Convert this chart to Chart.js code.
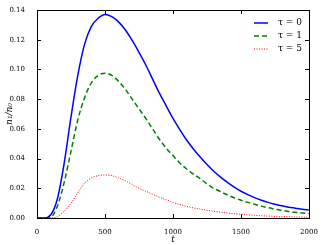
<!DOCTYPE html>
<html>
<head>
<meta charset="utf-8">
<script src="https://cdn.jsdelivr.net/npm/chart.js@4/dist/chart.umd.min.js"></script>
<style>
  html, body { margin: 0; padding: 0; background: #fff; }
  #wrap { width: 325px; height: 245px; }
</style>
</head>
<body>
<div id="wrap"><canvas id="c" width="325" height="245"></canvas></div>
<script>
// time axis (t), every 50
const times = [0, 50, 100, 150, 200, 250, 300, 350, 400, 450, 500, 550, 600, 650, 700, 750, 800, 850, 900, 950,
  1000, 1050, 1100, 1150, 1200, 1250, 1300, 1350, 1400, 1450, 1500, 1550, 1600, 1650, 1700, 1750, 1800, 1850, 1900, 1950, 2000];

// n1/n0 for each tau
const tau0 = [0, 0, 0.002, 0.013, 0.037, 0.068, 0.096, 0.117, 0.129, 0.1345, 0.137, 0.1355, 0.132, 0.1265, 0.1195, 0.1115, 0.103,
  0.0935, 0.084, 0.0755, 0.067, 0.0595, 0.0525, 0.0465, 0.041, 0.036, 0.0315, 0.0275, 0.024, 0.0208, 0.018, 0.0157, 0.0137,
  0.012, 0.0105, 0.0093, 0.0082, 0.0073, 0.0066, 0.0059, 0.0054];
const tau1 = [0, 0, 0.0005, 0.008, 0.024, 0.045, 0.066, 0.081, 0.091, 0.096, 0.0975, 0.096, 0.092, 0.0865, 0.080, 0.0735, 0.067,
  0.060, 0.053, 0.047, 0.042, 0.037, 0.033, 0.0295, 0.0265, 0.023, 0.020, 0.0177, 0.0155, 0.0136, 0.012, 0.0105, 0.0092,
  0.008, 0.0069, 0.006, 0.0051, 0.0044, 0.0038, 0.0034, 0.003];
const tau5 = [0, 0, 0, 0.001, 0.0045, 0.010, 0.017, 0.0235, 0.027, 0.0285, 0.029, 0.0285, 0.027, 0.025, 0.0225, 0.020, 0.018,
  0.016, 0.014, 0.0123, 0.0105, 0.0091, 0.0078, 0.0068, 0.006, 0.0052, 0.0045, 0.0039, 0.0033, 0.0029, 0.0025, 0.0021, 0.0018,
  0.0015, 0.0013, 0.0011, 0.001, 0.0009, 0.0007, 0.0006, 0.0005];

const seriesLabels = ['\u03c4 = 0', '\u03c4 = 1', '\u03c4 = 5'];
const xTicks = [0, 500, 1000, 1500, 2000];
const yTicks = [0, 0.02, 0.04, 0.06, 0.08, 0.10, 0.12, 0.14];

const serif = "'DejaVu Serif', 'Liberation Serif', serif";

function pts(vals) {
  return times.map((t, i) => ({ x: t, y: vals[i] }));
}

// matplotlib style inward ticks on all four sides, frame, legend, y label
const frameTicks = {
  id: 'frameTicks',
  afterDraw(chart) {
    const ctx = chart.ctx, a = chart.chartArea;
    const xs = chart.scales.x, ys = chart.scales.y;
    ctx.save();
    ctx.strokeStyle = '#000';
    ctx.lineWidth = 1;
    ctx.beginPath();
    xTicks.forEach(v => {
      const px = Math.round(xs.getPixelForValue(v)) + 0.5;
      ctx.moveTo(px, a.bottom); ctx.lineTo(px, a.bottom - 4);
      ctx.moveTo(px, a.top); ctx.lineTo(px, a.top + 4);
    });
    yTicks.forEach(v => {
      const py = Math.round(ys.getPixelForValue(v)) + 0.5;
      ctx.moveTo(a.left, py); ctx.lineTo(a.left + 4, py);
      ctx.moveTo(a.right, py); ctx.lineTo(a.right - 4, py);
    });
    ctx.stroke();
    ctx.strokeRect(Math.round(a.left) + 0.5, Math.round(a.top) + 0.5,
      Math.round(a.right - a.left), Math.round(a.bottom - a.top));

    // legend, upper right, no frame
    chart.data.datasets.forEach((d, i) => {
      const y = a.top + 13 + i * 13;
      ctx.beginPath();
      ctx.strokeStyle = d.borderColor;
      ctx.lineWidth = d.borderWidth;
      ctx.setLineDash(d.borderDash || []);
      ctx.moveTo(a.right - 55, y); ctx.lineTo(a.right - 41, y);
      ctx.stroke();
      ctx.setLineDash([]);
      ctx.fillStyle = '#000';
      ctx.font = "9px " + serif;
      ctx.textBaseline = 'middle';
      ctx.textAlign = 'left';
      ctx.fillText(d.label, a.right - 31, y);
    });

    // y-axis label
    ctx.save();
    ctx.translate(10, (a.top + a.bottom) / 2);
    ctx.rotate(-Math.PI / 2);
    ctx.font = "italic 9px " + serif;
    ctx.fillStyle = '#000';
    ctx.textAlign = 'center';
    ctx.textBaseline = 'middle';
    ctx.fillText('n\u2081/n\u2080', 0, 0);
    ctx.restore();
    ctx.restore();
  }
};

new Chart(document.getElementById('c'), {
  type: 'scatter',
  data: {
    datasets: [
      { label: seriesLabels[0], data: pts(tau0), borderColor: '#0000ff', borderWidth: 1.5 },
      { label: seriesLabels[1], data: pts(tau1), borderColor: '#008000', borderWidth: 1.5, borderDash: [5, 3] },
      { label: seriesLabels[2], data: pts(tau5), borderColor: '#ff0000', borderWidth: 1, borderDash: [1, 1.5] }
    ].map(d => Object.assign(d, { showLine: true, pointRadius: 0, fill: false, cubicInterpolationMode: 'monotone' }))
  },
  options: {
    responsive: false,
    animation: false,
    layout: { padding: { top: 10, right: 16, left: 0, bottom: 0 } },
    plugins: { legend: { display: false }, tooltip: { enabled: false } },
    scales: {
      x: {
        type: 'linear', min: 0, max: 2000,
        afterBuildTicks: s => { s.ticks = xTicks.map(v => ({ value: v })); },
        afterFit: s => { s.height = 27; },
        grid: { display: false },
        border: { display: false },
        ticks: { color: '#000', font: { family: serif, size: 7 }, padding: 2, maxRotation: 0, callback: v => String(v) },
        title: { display: true, text: 't', color: '#000', font: { family: serif, size: 9, style: 'italic' }, padding: 0 }
      },
      y: {
        type: 'linear', min: 0, max: 0.14,
        afterBuildTicks: s => { s.ticks = yTicks.map(v => ({ value: v })); },
        afterFit: s => { s.width = 37; },
        grid: { display: false },
        border: { display: false },
        ticks: { color: '#000', font: { family: serif, size: 7 }, padding: 4, callback: v => v.toFixed(2) }
      }
    }
  },
  plugins: [frameTicks]
});
</script>
</body>
</html>
